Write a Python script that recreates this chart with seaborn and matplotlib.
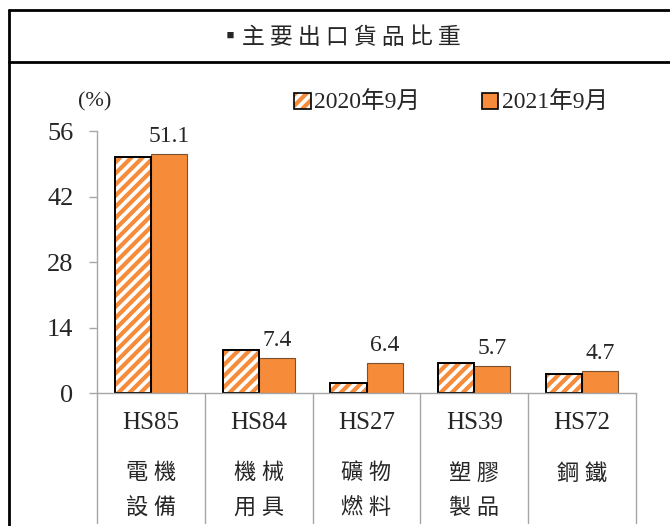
import numpy as np
import pandas as pd
import seaborn as sns
import matplotlib.pyplot as plt
from matplotlib.patches import Rectangle
from matplotlib.legend_handler import HandlerTuple

# chart data
codes = ["HS85", "HS84", "HS27", "HS39", "HS72"]
names_top = ["電 機", "機 械", "礦 物", "塑 膠", "鋼 鐵"]
names_bottom = ["設 備", "用 具", "燃 料", "製 品", ""]
series = ["2020年9月", "2021年9月"]
share_2020 = [50.4, 9.2, 2.1, 6.4, 4.0]
share_2021 = [51.1, 7.4, 6.4, 5.7, 4.7]
yticks = [0, 14, 28, 42, 56]

ORANGE = "#F68B3A"
GRID = "#A6A6A6"

df = pd.DataFrame({
    "code": codes * 2,
    "period": [series[0]] * 5 + [series[1]] * 5,
    "share": share_2020 + share_2021,
})

sns.set_style("white")
plt.rcParams["font.family"] = ["Liberation Serif", "Noto Sans CJK TC"]
plt.rcParams["hatch.linewidth"] = 3.0

fig = plt.figure(figsize=(6.7, 5.26), dpi=100)
ax = fig.add_axes([97 / 670, 133 / 526, (636 - 97) / 670, 262 / 526])

sns.barplot(data=df, x="code", y="share", hue="period", order=codes,
            hue_order=series, palette=[ORANGE, ORANGE], width=0.67,
            saturation=1, edgecolor="#7a5230", linewidth=0.8, ax=ax,
            legend=False)

# 2020 bars: white with orange stripes and a black outline
n = len(codes)
for p in ax.patches[:n]:
    p.set_facecolor("white")
    p.set_edgecolor(ORANGE)
    p.set_hatch("///")
    p.set_linewidth(0)
    ax.add_patch(Rectangle(p.get_xy(), p.get_width(), p.get_height(),
                           fill=False, ec="black", lw=1.4, zorder=p.get_zorder() + 0.1))

# value labels on 2021 bars
for p, v in zip(ax.patches[n:2 * n], share_2021):
    ax.annotate(f"{v:.1f}", (p.get_x() + p.get_width() / 2, p.get_height()),
                xytext=(0, 5), textcoords="offset points", ha="center", va="bottom",
                fontsize=17)

ax.set_ylim(0, 56)
ax.set_xlim(-0.5, n - 0.5)
ax.set_yticks(yticks)
ax.set_yticklabels([str(t) for t in yticks], fontsize=19)
ax.tick_params(axis="y", left=True, length=6, width=1, color=GRID, pad=11)
ax.set_xticks([])
ax.set_xlabel("")
ax.set_ylabel("")
for s in ["top", "right"]:
    ax.spines[s].set_visible(False)
for s in ["left", "bottom"]:
    ax.spines[s].set_color(GRID)
    ax.spines[s].set_linewidth(1)

# category table below the axis
tr = ax.get_xaxis_transform()
for xb in np.arange(-0.5, n, 1.0):
    ax.plot([xb, xb], [0, -0.495], transform=tr, color=GRID, lw=1, clip_on=False)
for i in range(n):
    ax.text(i, -30 / 262, codes[i], transform=tr, ha="center", va="center", fontsize=18)
    ax.text(i, -81 / 262, names_top[i], transform=tr, ha="center", va="center", fontsize=16)
    ax.text(i, -116 / 262, names_bottom[i], transform=tr, ha="center", va="center", fontsize=16)

# unit and legend
fig.text(95 / 670, 1 - 102 / 526, "(%)", ha="center", va="center", fontsize=16)
h1 = (Rectangle((0, 0), 1, 1, fc="white", ec=ORANGE, hatch="///", lw=0),
      Rectangle((0, 0), 1, 1, fill=False, ec="black", lw=1.2))
h2 = Rectangle((0, 0), 1, 1, fc=ORANGE, ec="black", lw=1.2)
fig.legend([h1, h2], series, handler_map={tuple: HandlerTuple(ndivide=1)},
           loc="center", bbox_to_anchor=(451 / 670, 1 - 103 / 526), ncol=2,
           frameon=False, fontsize=17, handlelength=0.7, handleheight=0.7,
           handletextpad=0.15, columnspacing=2.6)

# outer frame and title
fig.add_artist(plt.Line2D([9 / 670, 9 / 670], [0, 1 - 10 / 526], color="black", lw=2))
fig.add_artist(plt.Line2D([9 / 670, 1], [1 - 10 / 526, 1 - 10 / 526], color="black", lw=2))
fig.add_artist(plt.Line2D([9 / 670, 1], [1 - 62 / 526, 1 - 62 / 526], color="black", lw=2))
fig.text(340 / 670, 1 - 38 / 526, "▪主 要 出 口 貨 品 比 重", ha="center", va="center",
         fontsize=16.5, family=["Noto Sans CJK TC", "DejaVu Sans"])

fig.savefig("out.png", dpi=100)
